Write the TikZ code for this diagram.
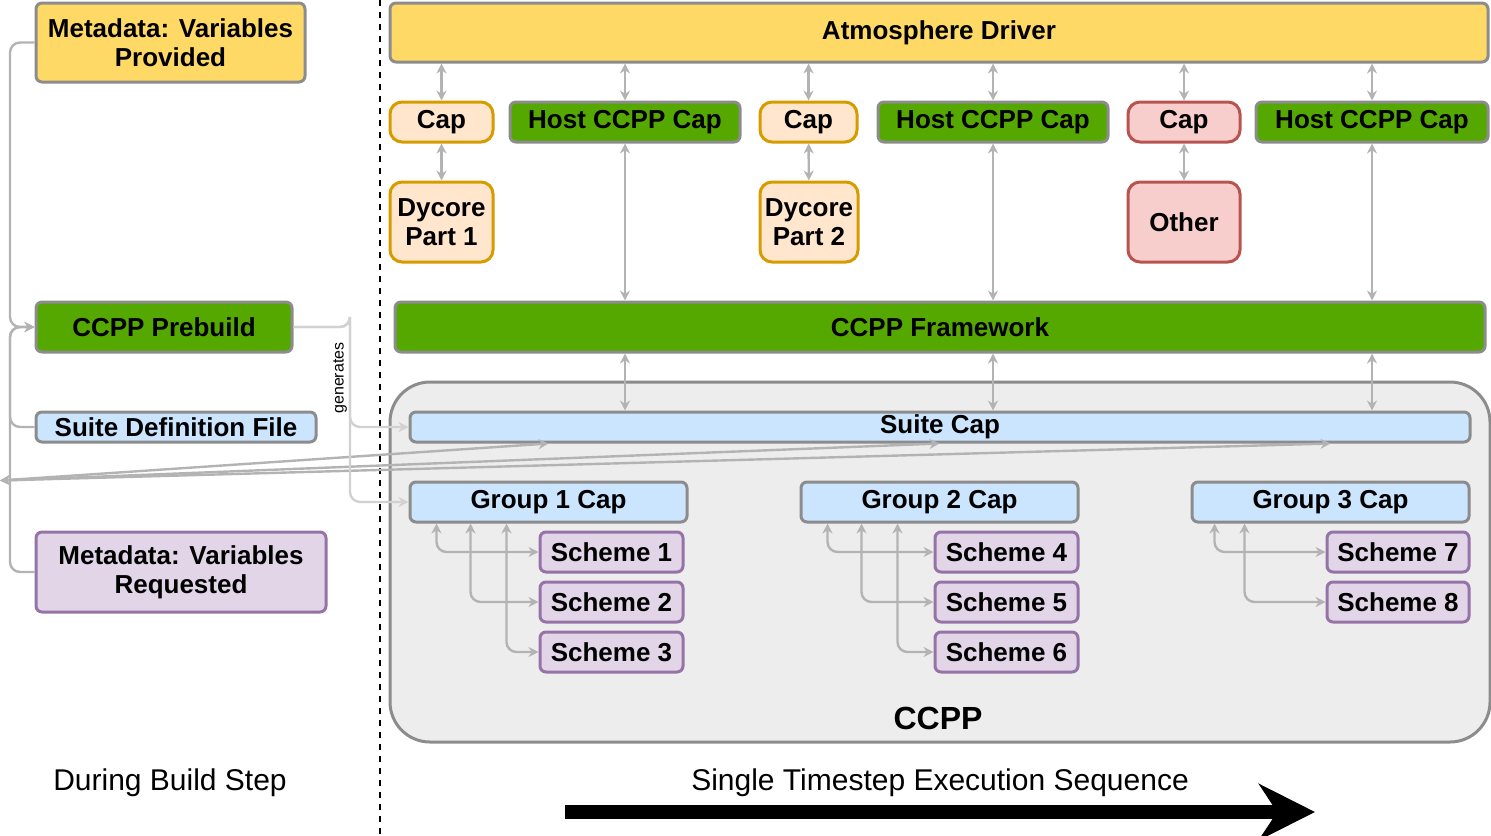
\documentclass[tikz,border=0pt]{standalone}
\usepackage{fontspec}
\setmainfont{Liberation Sans}
\usetikzlibrary{positioning,arrows.meta,calc}

\definecolor{yellowfill}{HTML}{FFD966}
\definecolor{greenfill}{HTML}{55A800}
\definecolor{bluefill}{HTML}{CCE5FF}
\definecolor{purplefill}{HTML}{E1D5E7}
\definecolor{purpleline}{HTML}{9673A6}
\definecolor{orangefill}{HTML}{FFE6CC}
\definecolor{orangeline}{HTML}{D79B00}
\definecolor{redfill}{HTML}{F8CECC}
\definecolor{redline}{HTML}{B85450}
\definecolor{boxline}{HTML}{8C8C8C}
\definecolor{linkgray}{HTML}{B3B3B3}

\begin{document}
\begin{tikzpicture}[
    x=0.5pt, y=-0.5pt,
    font=\bfseries\fontsize{13}{14.5}\selectfont,
    box/.style={draw=boxline, line width=1.5pt, rounded corners=3pt, inner sep=0pt, align=center},
    driver/.style={box, fill=yellowfill},
    host/.style={box, fill=greenfill},
    capbox/.style={box, fill=bluefill},
    scheme/.style={box, fill=purplefill, draw=purpleline},
    dycore/.style={box, fill=orangefill, draw=orangeline, rounded corners=6pt},
    other/.style={box, fill=redfill, draw=redline, rounded corners=6pt},
    link/.style={draw=linkgray, line width=1.2pt, {Stealth[length=5pt,width=5pt]}-{Stealth[length=5pt,width=5pt]}},
    onelink/.style={draw=linkgray, line width=1.2pt, rounded corners=5pt, -{Stealth[length=5pt,width=5pt]}},
    faint/.style={onelink, draw=linkgray!60}
]
\useasboundingbox (0,0) rectangle (1491,835);

% macro-like placement: node centred in a pixel box
\newcommand\pbox[6]{\node[#1, minimum width={(#4-#3)*0.5pt}, minimum height={(#6-#5)*0.5pt}] (#2) at ({(#3+#4)/2},{(#5+#6)/2})}

% Build step (left)
\pbox{driver}{metaprov}{36}{305}{3}{82} {Metadata: Variables\\Provided};
\pbox{host}{prebuild}{36}{292}{302}{352} {CCPP Prebuild};
\pbox{capbox}{sdf}{36}{316}{412}{442} {Suite Definition File};
\pbox{scheme}{metareq}{36}{326}{532}{612} {Metadata: Variables\\Requested};

\draw[dashed, line width=1.2pt] (380,0) -- (380,835);

% CCPP container
\node[draw=boxline, fill=black!7, line width=1.5pt, rounded corners=20pt, minimum width=550pt, minimum height=180pt] (ccpp) at (940,562) {};
\node at (938,718) (ccpplabel) {\fontsize{16}{18}\selectfont CCPP};

% Host model
\pbox{driver}{driver}{390}{1488}{3}{62} {Atmosphere Driver};
\pbox{dycore}{cap1}{390}{493}{102}{142} {Cap};
\pbox{host}{host1}{510}{740}{102}{142} {Host CCPP Cap};
\pbox{dycore}{cap2}{760}{857}{102}{142} {Cap};
\pbox{host}{host2}{878}{1108}{102}{142} {Host CCPP Cap};
\pbox{other}{cap3}{1128}{1240}{102}{142} {Cap};
\pbox{host}{host3}{1256}{1488}{102}{142} {Host CCPP Cap};
\pbox{dycore}{dyn1}{390}{493}{182}{262} {Dycore\\Part 1};
\pbox{dycore}{dyn2}{760}{858}{182}{262} {Dycore\\Part 2};
\pbox{other}{otherphys}{1128}{1240}{182}{262} {Other};

% Framework and caps
\pbox{host}{framework}{395}{1485}{302}{352} {CCPP Framework};
\pbox{capbox}{suitecap}{410}{1470}{412}{442} {Suite Cap};
\pbox{capbox}{group1}{410}{687}{482}{522} {Group 1 Cap};
\pbox{capbox}{group2}{801}{1078}{482}{522} {Group 2 Cap};
\pbox{capbox}{group3}{1192}{1469}{482}{522} {Group 3 Cap};

% Schemes
\pbox{scheme}{s1}{540}{683}{532}{572} {Scheme 1};
\pbox{scheme}{s2}{540}{683}{582}{622} {Scheme 2};
\pbox{scheme}{s3}{540}{683}{632}{672} {Scheme 3};
\pbox{scheme}{s4}{935}{1078}{532}{572} {Scheme 4};
\pbox{scheme}{s5}{935}{1078}{582}{622} {Scheme 5};
\pbox{scheme}{s6}{935}{1078}{632}{672} {Scheme 6};
\pbox{scheme}{s7}{1327}{1469}{532}{572} {Scheme 7};
\pbox{scheme}{s8}{1327}{1469}{582}{622} {Scheme 8};

% Connections: driver to caps
\foreach \c in {cap1,host1,cap2,host2,cap3,host3}
  \path[link] (driver.south -| \c.north) -- (\c.north);
\path[link] (cap1) -- (dyn1);
\path[link] (cap2) -- (dyn2);
\path[link] (cap3) -- (otherphys);
\foreach \h in {host1,host2,host3} {
  \path[link] (\h.south) -- (framework.north -| \h.south);
  \path[link] (framework.south -| \h.south) -- (suitecap.north -| \h.south);
}
\foreach \g in {group1,group2,group3}
  \path[link] (suitecap.south -| \g.north) -- (\g.north -| framework.south -| suitecap.south -| 0,0) ;

% Connections: groups to schemes
\foreach \g/\a/\b/\c in {group1/s1/s2/s3, group2/s4/s5/s6} {
  \path[onelink, {Stealth[length=5pt,width=5pt]}-{Stealth[length=5pt,width=5pt]}] ($(\g.south west)+(28,0)$) |- (\a.west);
  \path[onelink, {Stealth[length=5pt,width=5pt]}-{Stealth[length=5pt,width=5pt]}] ($(\g.south west)+(62,0)$) |- (\b.west);
  \path[onelink, {Stealth[length=5pt,width=5pt]}-{Stealth[length=5pt,width=5pt]}] ($(\g.south west)+(98,0)$) |- (\c.west);
}
\path[onelink, {Stealth[length=5pt,width=5pt]}-{Stealth[length=5pt,width=5pt]}] ($(group3.south west)+(24,0)$) |- (s7.west);
\path[onelink, {Stealth[length=5pt,width=5pt]}-{Stealth[length=5pt,width=5pt]}] ($(group3.south west)+(54,0)$) |- (s8.west);

% Build step connections
\coordinate (trunk) at (10,327);
\path[onelink] (metaprov.west) -| (trunk) -- (prebuild.west);
\path[onelink] (sdf.west) -| (trunk) -- (prebuild.west);
\path[onelink] (metareq.west) -| (trunk) -- (prebuild.west);
\coordinate (gen) at (350,327);
\path[faint] (prebuild.east) -| (gen) |- (suitecap.west);
\path[faint] (prebuild.east) -| (gen) |- (group1.west);
\node[font=\fontsize{8}{9}\selectfont, rotate=90] (genlabel) at (340,378) {generates};

% Captions
\node[font=\fontsize{15}{17}\selectfont] (buildstep) at (170,783) {During Build Step};
\node[font=\fontsize{15}{17}\selectfont] (timestep) at (940,783) {Single Timestep Execution Sequence};
\coordinate (seqstart) at (565,812);
\coordinate (seqend) at (1315,812);
\draw[line width=7pt, -{Stealth[length=28pt,width=28pt]}] (seqstart) -- (seqend);
\end{tikzpicture}
\end{document}
